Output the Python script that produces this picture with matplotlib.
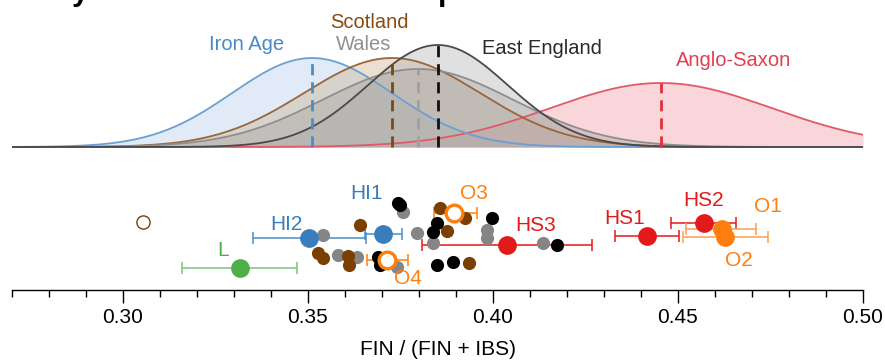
import numpy as np
import matplotlib
matplotlib.use('Agg')
import matplotlib.pyplot as plt

plt.rcParams['font.family'] = ['Liberation Sans', 'DejaVu Sans']

# --- top panel: fitted distributions per reference group
groups = ['Anglo-Saxon', 'Iron Age', 'Scotland', 'Wales', 'East England']
means = [0.4454, 0.3511, 0.3727, 0.3797, 0.3851]
sds = [0.0300, 0.0216, 0.0238, 0.0257, 0.0189]
peaks = [64, 89, 89, 78, 102]
line_cols = ['#e05a68', '#6d9fd2', '#98663a', '#8e8e8e', '#4a4a4a']
fill_cols = ['#f08a94', '#a9c8ea', '#c9a57e', '#9a9a9a', '#a8a8a8']
dash_cols = ['#e0303f', '#4a8cc8', '#7a4a12', '#a0a0a0', '#111111']
text_cols = ['#e0404f', '#4a88c7', '#8a4a10', '#909090', '#2a2a2a']
label_x = [0.4649, 0.3335, 0.3665, 0.3651, 0.4132]
label_y = [86, 102, 125, 102, 99]

# --- bottom panel: individual samples (x value, jitter)
black_x = [0.3749, 0.3849, 0.3838, 0.3997, 0.3689, 0.3695, 0.3849, 0.3892, 0.4173, 0.3743]
black_y = [85, 67, 58, 72, 33, 25, 25, 28, 45, 87]
grey_x = [0.3757, 0.3541, 0.3795, 0.3838, 0.3984, 0.3984, 0.3581, 0.3632, 0.3741, 0.4135]
grey_y = [78, 55, 57, 47, 60, 52, 35, 33, 23, 47]
brown_x = [0.3641, 0.3857, 0.3924, 0.3876, 0.3527, 0.3541, 0.3608, 0.3611, 0.3935]
brown_y = [65, 82, 72, 59, 37, 32, 34, 25, 27]
outlier_x = [0.3054]
outlier_y = [68]

# --- bottom panel: labelled samples with intervals
names = ['L', 'HI2', 'HI1', 'O4', 'O3', 'HS3', 'HS1', 'HS2', 'O1', 'O2']
est = [0.3316, 0.3503, 0.3703, 0.3714, 0.3895, 0.4038, 0.4416, 0.4570, 0.4619, 0.4627]
lo = [0.3159, 0.3351, 0.3654, 0.3659, 0.3841, 0.3808, 0.4330, 0.4481, 0.4522, 0.4514]
hi = [0.3470, 0.3657, 0.3754, 0.3770, 0.3957, 0.4268, 0.4503, 0.4657, 0.4711, 0.4743]
row = [22, 52, 56, 30, 77, 45, 54, 67, 61, 53]
cols = ['#4daf4a', '#3a7dbd', '#3a7dbd', '#ff7f0e', '#ff7f0e',
        '#e31a1c', '#e31a1c', '#e31a1c', '#ff7f0e', '#ff7f0e']
err_cols = ['#7cc47a', '#4a8cc8', '#4a8cc8', '#ff7f0e', '#ff7f0e',
            '#e31a1c', '#e31a1c', '#e31a1c', '#f9a050', '#f9a050']
hollow = [False, False, False, True, True, False, False, False, False, False]
name_x = [0.3270, 0.3443, 0.3659, 0.3770, 0.3949, 0.4114, 0.4357, 0.4568, 0.4743, 0.4665]
name_y = [40, 66, 97, 12, 97, 65, 72, 90, 84, 30]

xmin, xmax = 0.27, 0.50

fig = plt.figure(figsize=(8.85, 3.6), dpi=100)

# cropped title remnants (only descenders visible, as in the source)
fig.text(80 / 885, 1.0, 'y', fontsize=22, fontweight='bold', ha='center', va='baseline')
fig.text(447 / 885, 1.0, 'p', fontsize=22, fontweight='bold', ha='center', va='baseline')

top = fig.add_axes([12 / 885, 1 - 150 / 360, 851 / 885, 150 / 360])
xs = np.linspace(xmin, xmax, 600)
for i, g in enumerate(groups):
    ys = peaks[i] * np.exp(-0.5 * ((xs - means[i]) / sds[i]) ** 2)
    top.fill_between(xs, 0, ys, color=fill_cols[i], alpha=0.35, lw=0)
    top.plot(xs, ys, color=line_cols[i], lw=1.3)
for i, g in enumerate(groups):
    top.plot([means[i], means[i]], [0, peaks[i]], color=dash_cols[i], lw=2,
             dashes=(4, 2.5))
    top.text(label_x[i], label_y[i], g, color=text_cols[i],
             fontsize=14.5, ha='center', va='center')
top.set_xlim(xmin, xmax)
top.set_ylim(-3, 147)
top.axis('off')

ax = fig.add_axes([12 / 885, 1 - 290 / 360, 851 / 885, 115 / 360])
for i in range(len(names)):
    ax.errorbar(est[i], row[i], xerr=[[est[i] - lo[i]], [hi[i] - est[i]]], fmt='none',
                ecolor=err_cols[i], elinewidth=1.1, capsize=4.5, capthick=1.1, zorder=2)
ax.scatter(grey_x, grey_y, s=90, color='#858585', lw=0, zorder=3)
ax.scatter(brown_x, brown_y, s=90, color='#7b3f00', lw=0, zorder=3)
ax.scatter(black_x, black_y, s=90, color='black', lw=0, zorder=3)
ax.scatter(outlier_x, outlier_y, s=90, facecolor='white', edgecolor='#7b3f00', lw=1, zorder=3)
for i in range(len(names)):
    if hollow[i]:
        ax.plot(est[i], row[i], 'o', ms=12, mfc='white', mec=cols[i], mew=2.4, zorder=4)
    else:
        ax.plot(est[i], row[i], 'o', ms=13.5, color=cols[i], mew=0, zorder=4)
    ax.text(name_x[i], name_y[i], names[i], color=cols[i], fontsize=15,
            ha='center', va='center')

ax.set_xlim(xmin, xmax)
ax.set_ylim(0, 115)
ax.set_xticks([0.30, 0.35, 0.40, 0.45, 0.50])
ax.set_xticklabels(['0.30', '0.35', '0.40', '0.45', '0.50'])
ax.set_xticks(np.arange(27, 51) / 100, minor=True)
ax.tick_params(axis='x', which='major', length=9, width=1, labelsize=15, pad=4)
ax.tick_params(axis='x', which='minor', length=5, width=1)
ax.set_yticks([])
for s in ['left', 'top', 'right']:
    ax.spines[s].set_visible(False)
ax.spines['bottom'].set_linewidth(1)
ax.set_xlabel('FIN / (FIN + IBS)', fontsize=15, labelpad=9)

fig.savefig('out.png', dpi=100)
